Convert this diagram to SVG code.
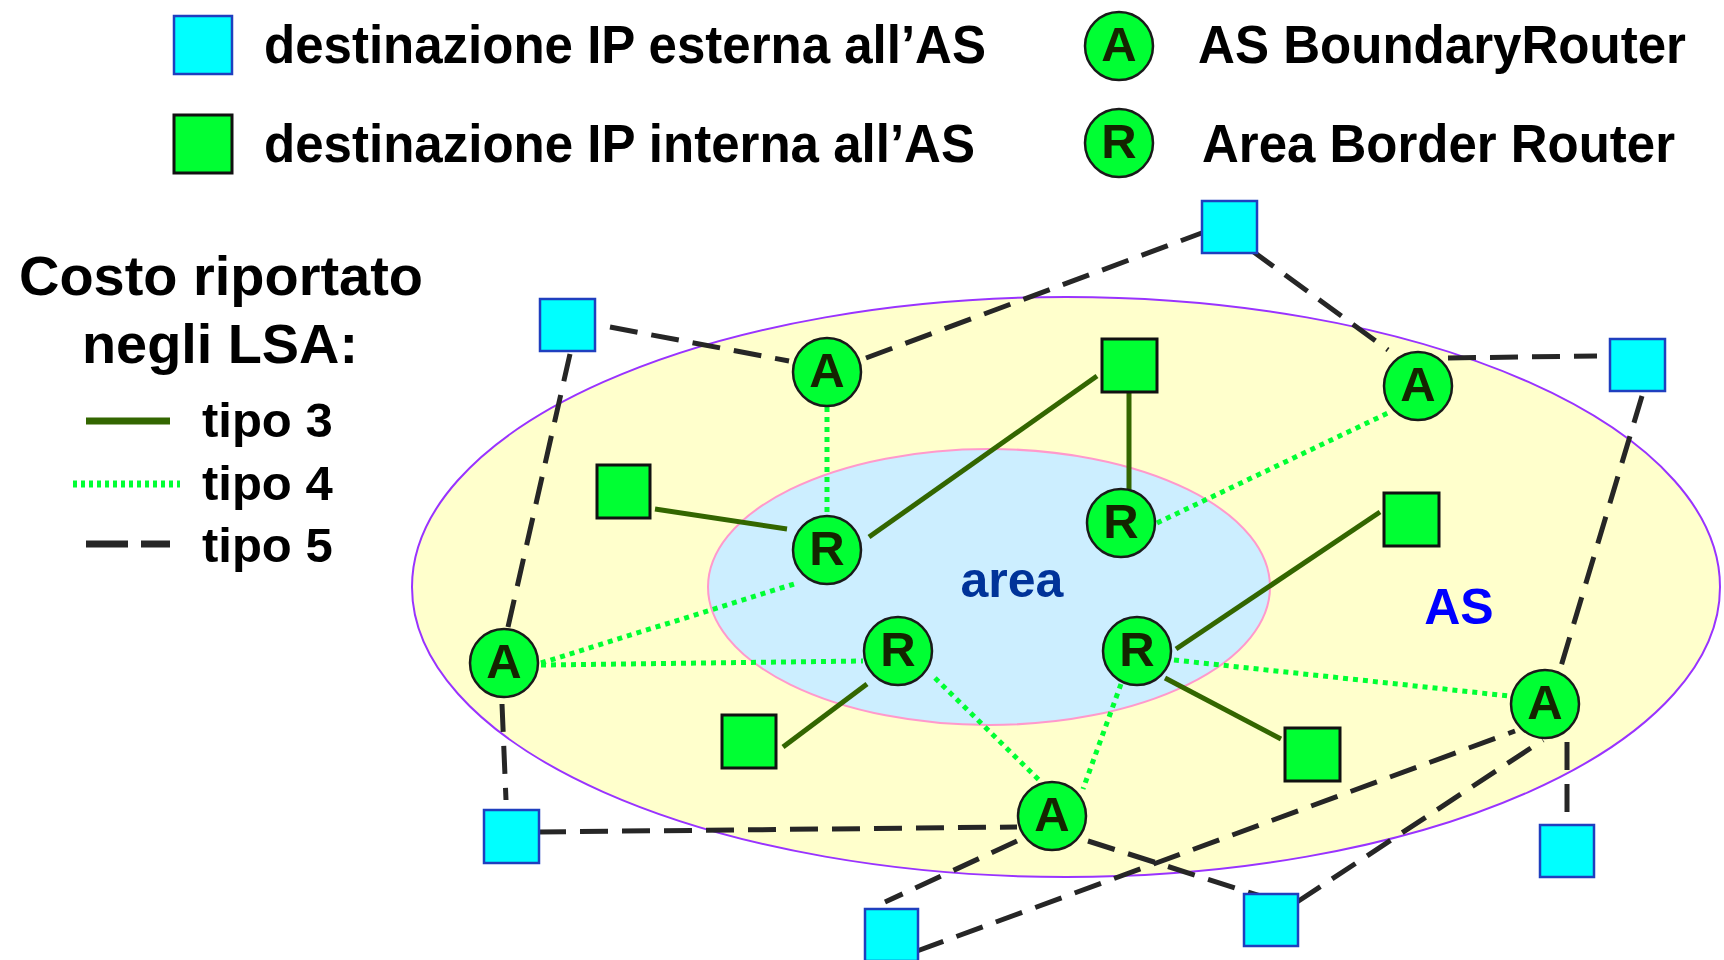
<svg xmlns="http://www.w3.org/2000/svg" width="1724" height="960" viewBox="0 0 1724 960">
<style>
text{font-family:"Liberation Sans",Arial,sans-serif;font-weight:bold}
.lg{font-size:53px;fill:#000}
.ext{fill:#00ffff;stroke:#1f3fbf;stroke-width:2.5}
.int{fill:#00ff33;stroke:#111;stroke-width:3}
.rt{fill:#00ff33;stroke:#1a1a1a;stroke-width:2.5}
.lt{font-size:49px;fill:#142400;text-anchor:middle}
.t3{stroke:#336600;stroke-width:5;fill:none}
.t4{stroke:#00ff33;stroke-width:5;stroke-dasharray:5 5;fill:none}
.t5{stroke:#262626;stroke-width:5;stroke-dasharray:28 14;fill:none}
.tp{font-size:49px;fill:#000}
</style>
<rect width="1724" height="960" fill="#fff"/>
<g id="legend">
<rect class="ext" x="174" y="16" width="58" height="58"/>
<text class="lg" x="264" y="63" textLength="722" lengthAdjust="spacingAndGlyphs">destinazione IP esterna all’AS</text>
<rect class="int" x="174" y="115" width="58" height="58"/>
<text class="lg" x="264" y="162" textLength="711" lengthAdjust="spacingAndGlyphs">destinazione IP interna all’AS</text>
<ellipse class="rt" cx="1119" cy="46" rx="34" ry="34"/>
<text class="lt" x="1119" y="61">A</text>
<text class="lg" x="1198" y="63" textLength="488" lengthAdjust="spacingAndGlyphs">AS BoundaryRouter</text>
<ellipse class="rt" cx="1119" cy="143" rx="34" ry="34"/>
<text class="lt" x="1119" y="158">R</text>
<text class="lg" x="1202" y="162" textLength="473" lengthAdjust="spacingAndGlyphs">Area Border Router</text>
<text x="19" y="295" font-size="56" textLength="404" lengthAdjust="spacingAndGlyphs">Costo riportato</text>
<text x="82" y="363" font-size="56" textLength="276" lengthAdjust="spacingAndGlyphs">negli LSA:</text>
<line class="t3" x1="86" y1="421" x2="170" y2="421" style="stroke-width:7"/>
<text class="tp" x="202" y="437">tipo 3</text>
<line class="t4" x1="73" y1="484" x2="180" y2="484" style="stroke-width:7;stroke-dasharray:4 4"/>
<text class="tp" x="202" y="500">tipo 4</text>
<line class="t5" x1="86" y1="544" x2="170" y2="544" style="stroke-width:7;stroke-dasharray:42 13"/>
<text class="tp" x="202" y="562">tipo 5</text>
</g>
<g id="as-region">
<ellipse cx="1066" cy="587" rx="654" ry="290" fill="#ffffcc" stroke="#9933ff" stroke-width="2"/>
<text x="1459" y="624" font-size="50" fill="#0000ff" text-anchor="middle">AS</text>
</g>
<g id="area-region">
<ellipse cx="989" cy="587" rx="281" ry="138" fill="#cceeff" stroke="#ff99cc" stroke-width="2"/>
<text x="1012" y="597" font-size="50" fill="#003399" text-anchor="middle">area</text>
</g>
<g id="connectors">
<line class="t3" x1="655" y1="509" x2="787" y2="529"/>
<line class="t3" x1="869" y1="537" x2="1097" y2="376"/>
<line class="t3" x1="1129" y1="393" x2="1129" y2="497"/>
<line class="t3" x1="867" y1="684" x2="783" y2="747"/>
<line class="t3" x1="1176" y1="649" x2="1380" y2="512"/>
<line class="t3" x1="1165" y1="678" x2="1281" y2="739"/>
<line class="t4" x1="827" y1="407" x2="827" y2="515"/>
<line class="t4" x1="541" y1="663" x2="794" y2="584"/>
<line class="t4" x1="541" y1="665" x2="863" y2="661"/>
<line class="t4" x1="1157" y1="523" x2="1388" y2="413"/>
<line class="t4" x1="935" y1="678" x2="1042" y2="783"/>
<line class="t4" x1="1121" y1="684" x2="1083" y2="789"/>
<line class="t4" x1="1174" y1="660" x2="1509" y2="696"/>
<line class="t5" x1="610" y1="327" x2="789" y2="361"/>
<line class="t5" x1="866" y1="358" x2="1207" y2="231"/>
<line class="t5" x1="1251" y1="250" x2="1388" y2="350"/>
<line class="t5" x1="1448" y1="358" x2="1597" y2="356"/>
<line class="t5" x1="1642" y1="396" x2="1559" y2="673"/>
<line class="t5" x1="570" y1="354" x2="508" y2="627"/>
<line class="t5" x1="502" y1="704" x2="506" y2="800"/>
<line class="t5" x1="538" y1="832" x2="1017" y2="827"/>
<line class="t5" x1="1017" y1="841" x2="885" y2="902"/>
<line class="t5" x1="1088" y1="841" x2="1270" y2="899"/>
<line class="t5" x1="917" y1="951" x2="1515" y2="731"/>
<line class="t5" x1="1297" y1="902" x2="1543" y2="740"/>
<line class="t5" x1="1567" y1="742" x2="1567" y2="819"/>
</g>
<g id="ext1"><rect class="ext" x="540" y="299" width="55" height="52"/></g>
<g id="ext2"><rect class="ext" x="1202" y="201" width="55" height="52"/></g>
<g id="ext3"><rect class="ext" x="1610" y="339" width="55" height="52"/></g>
<g id="ext4"><rect class="ext" x="484" y="810" width="55" height="53"/></g>
<g id="ext5"><rect class="ext" x="865" y="909" width="53" height="52"/></g>
<g id="ext6"><rect class="ext" x="1244" y="894" width="54" height="52"/></g>
<g id="ext7"><rect class="ext" x="1540" y="825" width="54" height="52"/></g>
<g id="int1"><rect class="int" x="1102" y="339" width="55" height="53"/></g>
<g id="int2"><rect class="int" x="597" y="465" width="53" height="53"/></g>
<g id="int3"><rect class="int" x="1384" y="493" width="55" height="53"/></g>
<g id="int4"><rect class="int" x="722" y="715" width="54" height="53"/></g>
<g id="int5"><rect class="int" x="1285" y="728" width="55" height="53"/></g>
<g id="A1"><ellipse class="rt" cx="827" cy="372" rx="34" ry="34"/><text class="lt" x="827" y="387">A</text></g>
<g id="A2"><ellipse class="rt" cx="1418" cy="386" rx="34" ry="34"/><text class="lt" x="1418" y="401">A</text></g>
<g id="A3"><ellipse class="rt" cx="504" cy="663" rx="34" ry="34"/><text class="lt" x="504" y="678">A</text></g>
<g id="A4"><ellipse class="rt" cx="1052" cy="816" rx="34" ry="34"/><text class="lt" x="1052" y="831">A</text></g>
<g id="A5"><ellipse class="rt" cx="1545" cy="704" rx="34" ry="34"/><text class="lt" x="1545" y="719">A</text></g>
<g id="R1"><ellipse class="rt" cx="827" cy="550" rx="34" ry="34"/><text class="lt" x="827" y="565">R</text></g>
<g id="R2"><ellipse class="rt" cx="1121" cy="523" rx="34" ry="34"/><text class="lt" x="1121" y="538">R</text></g>
<g id="R3"><ellipse class="rt" cx="898" cy="651" rx="34" ry="34"/><text class="lt" x="898" y="666">R</text></g>
<g id="R4"><ellipse class="rt" cx="1137" cy="651" rx="34" ry="34"/><text class="lt" x="1137" y="666">R</text></g>
</svg>
